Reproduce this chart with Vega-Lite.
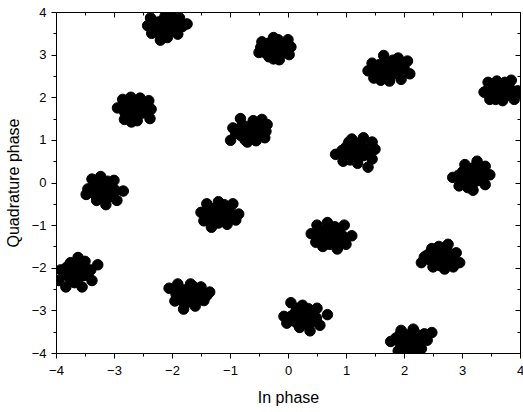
{
  "$schema": "https://vega.github.io/schema/vega-lite/v6.json",
  "width": 464,
  "height": 341,
  "autosize": {"type": "none"},
  "padding": {"left": 56, "top": 12, "right": 3, "bottom": 59},
  "background": "white",
  "config": {
    "font": "Liberation Sans",
    "view": {"stroke": null},
    "axis": {
      "grid": false,
      "domainColor": "black",
      "domainWidth": 1,
      "tickColor": "black",
      "tickWidth": 1,
      "labelColor": "black",
      "labelFontSize": 13,
      "titleFontSize": 16,
      "titleFontWeight": "normal",
      "titleColor": "black"
    }
  },
  "data": {
    "values": [
      {"i": -2.12, "q": 3.66}, {"i": -1.97, "q": 3.76}, {"i": -2.27, "q": 3.76}, {"i": -1.97, "q": 3.56}, {"i": -2.27, "q": 3.56}, {"i": -1.82, "q": 3.66}, {"i": -2.42, "q": 3.68}, {"i": -2.12, "q": 3.9}, {"i": -2.08, "q": 3.4}, {"i": -1.87, "q": 3.86}, {"i": -2.37, "q": 3.86}, {"i": -1.9, "q": 3.48}, {"i": -2.35, "q": 3.5}, {"i": -1.74, "q": 3.72}, {"i": -2.02, "q": 3.95}, {"i": -2.2, "q": 3.34},
      {"i": -0.25, "q": 3.15}, {"i": -0.1, "q": 3.25}, {"i": -0.4, "q": 3.25}, {"i": -0.1, "q": 3.05}, {"i": -0.4, "q": 3.05}, {"i": 0.05, "q": 3.18}, {"i": -0.5, "q": 3.05}, {"i": -0.25, "q": 3.4}, {"i": -0.25, "q": 2.9}, {"i": 0.0, "q": 3.35}, {"i": -0.45, "q": 3.3}, {"i": 0.02, "q": 3.0}, {"i": -0.15, "q": 2.88}, {"i": -0.3, "q": 3.0}, {"i": -0.2, "q": 3.3}, {"i": -0.05, "q": 3.12},
      {"i": 1.73, "q": 2.67}, {"i": 1.88, "q": 2.77}, {"i": 1.58, "q": 2.77}, {"i": 1.88, "q": 2.57}, {"i": 1.58, "q": 2.57}, {"i": 2.06, "q": 2.85}, {"i": 1.38, "q": 2.62}, {"i": 1.65, "q": 2.98}, {"i": 1.75, "q": 2.38}, {"i": 2.1, "q": 2.55}, {"i": 1.48, "q": 2.45}, {"i": 1.95, "q": 2.42}, {"i": 1.6, "q": 2.4}, {"i": 1.9, "q": 2.92}, {"i": 1.45, "q": 2.8}, {"i": 2.0, "q": 2.7},
      {"i": 3.66, "q": 2.15}, {"i": 3.81, "q": 2.25}, {"i": 3.51, "q": 2.25}, {"i": 3.81, "q": 2.05}, {"i": 3.51, "q": 2.05}, {"i": 3.96, "q": 2.15}, {"i": 3.38, "q": 2.12}, {"i": 3.6, "q": 2.38}, {"i": 3.7, "q": 1.92}, {"i": 3.85, "q": 2.4}, {"i": 3.45, "q": 2.35}, {"i": 3.9, "q": 1.95}, {"i": 3.48, "q": 1.95}, {"i": 4.0, "q": 2.1}, {"i": 3.75, "q": 2.3}, {"i": 3.6, "q": 1.98},
      {"i": -2.66, "q": 1.73}, {"i": -2.51, "q": 1.83}, {"i": -2.81, "q": 1.83}, {"i": -2.51, "q": 1.63}, {"i": -2.81, "q": 1.63}, {"i": -2.36, "q": 1.72}, {"i": -2.94, "q": 1.75}, {"i": -2.71, "q": 2.0}, {"i": -2.6, "q": 1.45}, {"i": -2.4, "q": 1.92}, {"i": -2.85, "q": 1.95}, {"i": -2.38, "q": 1.5}, {"i": -2.82, "q": 1.48}, {"i": -2.55, "q": 1.98}, {"i": -2.7, "q": 1.42}, {"i": -2.45, "q": 1.78},
      {"i": -0.66, "q": 1.2}, {"i": -0.51, "q": 1.3}, {"i": -0.81, "q": 1.3}, {"i": -0.51, "q": 1.1}, {"i": -0.81, "q": 1.1}, {"i": -0.36, "q": 1.36}, {"i": -0.99, "q": 0.99}, {"i": -0.82, "q": 1.5}, {"i": -0.7, "q": 0.95}, {"i": -0.45, "q": 1.48}, {"i": -0.95, "q": 1.28}, {"i": -0.4, "q": 1.05}, {"i": -0.6, "q": 1.45}, {"i": -0.9, "q": 1.15}, {"i": -0.55, "q": 0.98}, {"i": -0.38, "q": 1.2},
      {"i": 1.15, "q": 0.73}, {"i": 1.3, "q": 0.83}, {"i": 1.0, "q": 0.83}, {"i": 1.3, "q": 0.63}, {"i": 1.0, "q": 0.63}, {"i": 0.82, "q": 0.66}, {"i": 1.5, "q": 0.78}, {"i": 1.3, "q": 1.05}, {"i": 1.1, "q": 1.02}, {"i": 1.38, "q": 0.36}, {"i": 1.2, "q": 0.45}, {"i": 1.45, "q": 0.95}, {"i": 0.95, "q": 0.5}, {"i": 1.45, "q": 0.55}, {"i": 1.05, "q": 0.95}, {"i": 1.25, "q": 0.72},
      {"i": 3.16, "q": 0.15}, {"i": 3.31, "q": 0.25}, {"i": 3.01, "q": 0.25}, {"i": 3.31, "q": 0.05}, {"i": 3.01, "q": 0.05}, {"i": 2.84, "q": 0.12}, {"i": 3.48, "q": 0.18}, {"i": 3.26, "q": 0.5}, {"i": 3.05, "q": 0.42}, {"i": 3.19, "q": -0.18}, {"i": 3.4, "q": 0.38}, {"i": 3.4, "q": -0.05}, {"i": 2.95, "q": -0.08}, {"i": 3.1, "q": -0.12}, {"i": 3.35, "q": 0.1}, {"i": 3.2, "q": 0.35},
      {"i": -3.19, "q": -0.17}, {"i": -3.04, "q": -0.07}, {"i": -3.34, "q": -0.07}, {"i": -3.04, "q": -0.27}, {"i": -3.34, "q": -0.27}, {"i": -3.48, "q": -0.28}, {"i": -2.84, "q": -0.2}, {"i": -3.23, "q": 0.14}, {"i": -3.38, "q": 0.08}, {"i": -3.0, "q": 0.05}, {"i": -3.14, "q": -0.52}, {"i": -2.95, "q": -0.42}, {"i": -3.3, "q": -0.42}, {"i": -3.45, "q": -0.15}, {"i": -3.1, "q": -0.35}, {"i": -3.2, "q": 0.0},
      {"i": -1.18, "q": -0.72}, {"i": -1.03, "q": -0.62}, {"i": -1.33, "q": -0.62}, {"i": -1.03, "q": -0.82}, {"i": -1.33, "q": -0.82}, {"i": -1.5, "q": -0.7}, {"i": -0.85, "q": -0.74}, {"i": -1.2, "q": -0.45}, {"i": -1.4, "q": -0.5}, {"i": -0.95, "q": -0.5}, {"i": -1.32, "q": -1.05}, {"i": -1.05, "q": -0.98}, {"i": -1.45, "q": -0.9}, {"i": -0.9, "q": -0.88}, {"i": -1.2, "q": -0.95}, {"i": -1.1, "q": -0.72},
      {"i": 0.73, "q": -1.24}, {"i": 0.88, "q": -1.14}, {"i": 0.58, "q": -1.14}, {"i": 0.88, "q": -1.34}, {"i": 0.58, "q": -1.34}, {"i": 0.4, "q": -1.2}, {"i": 1.1, "q": -1.25}, {"i": 0.68, "q": -0.94}, {"i": 0.97, "q": -1.0}, {"i": 0.5, "q": -1.0}, {"i": 0.85, "q": -1.56}, {"i": 0.6, "q": -1.5}, {"i": 1.0, "q": -1.45}, {"i": 0.48, "q": -1.4}, {"i": 0.75, "q": -1.05}, {"i": 0.72, "q": -1.45},
      {"i": 2.61, "q": -1.73}, {"i": 2.76, "q": -1.63}, {"i": 2.46, "q": -1.63}, {"i": 2.76, "q": -1.83}, {"i": 2.46, "q": -1.83}, {"i": 2.3, "q": -1.88}, {"i": 2.96, "q": -1.88}, {"i": 2.76, "q": -1.45}, {"i": 2.48, "q": -1.55}, {"i": 2.9, "q": -1.65}, {"i": 2.7, "q": -2.03}, {"i": 2.5, "q": -1.98}, {"i": 2.85, "q": -1.98}, {"i": 2.6, "q": -1.5}, {"i": 2.62, "q": -1.95}, {"i": 2.35, "q": -1.75},
      {"i": -3.66, "q": -2.08}, {"i": -3.51, "q": -1.98}, {"i": -3.81, "q": -1.98}, {"i": -3.51, "q": -2.18}, {"i": -3.81, "q": -2.18}, {"i": -3.92, "q": -2.05}, {"i": -3.28, "q": -1.93}, {"i": -3.62, "q": -1.76}, {"i": -3.75, "q": -1.88}, {"i": -3.4, "q": -2.05}, {"i": -3.55, "q": -2.45}, {"i": -3.83, "q": -2.45}, {"i": -3.38, "q": -2.3}, {"i": -3.95, "q": -2.3}, {"i": -3.68, "q": -2.35}, {"i": -3.5, "q": -1.85},
      {"i": -1.71, "q": -2.64}, {"i": -1.56, "q": -2.54}, {"i": -1.86, "q": -2.54}, {"i": -1.56, "q": -2.74}, {"i": -1.86, "q": -2.74}, {"i": -2.05, "q": -2.48}, {"i": -1.35, "q": -2.57}, {"i": -1.9, "q": -2.38}, {"i": -1.68, "q": -2.38}, {"i": -1.45, "q": -2.77}, {"i": -1.8, "q": -2.97}, {"i": -1.6, "q": -2.9}, {"i": -1.95, "q": -2.78}, {"i": -1.5, "q": -2.45}, {"i": -1.7, "q": -2.8}, {"i": -1.4, "q": -2.65},
      {"i": 0.27, "q": -3.16}, {"i": 0.42, "q": -3.06}, {"i": 0.12, "q": -3.06}, {"i": 0.42, "q": -3.26}, {"i": 0.12, "q": -3.26}, {"i": -0.07, "q": -3.14}, {"i": 0.68, "q": -3.1}, {"i": 0.05, "q": -2.82}, {"i": 0.25, "q": -2.88}, {"i": 0.5, "q": -2.95}, {"i": 0.38, "q": -3.48}, {"i": 0.2, "q": -3.4}, {"i": 0.55, "q": -3.35}, {"i": -0.02, "q": -3.3}, {"i": 0.3, "q": -3.3}, {"i": 0.15, "q": -2.95},
      {"i": 2.08, "q": -3.67}, {"i": 2.23, "q": -3.57}, {"i": 1.93, "q": -3.57}, {"i": 2.23, "q": -3.77}, {"i": 1.93, "q": -3.77}, {"i": 1.77, "q": -3.73}, {"i": 2.48, "q": -3.52}, {"i": 2.16, "q": -3.44}, {"i": 1.95, "q": -3.47}, {"i": 2.4, "q": -3.7}, {"i": 2.1, "q": -3.9}, {"i": 2.3, "q": -3.9}, {"i": 1.9, "q": -3.95}, {"i": 2.05, "q": -3.85}, {"i": 2.35, "q": -3.55}, {"i": 2.2, "q": -4.0},
      {"i": -2.04, "q": 3.86}, {"i": -2.2, "q": 3.46}, {"i": -1.9, "q": 3.64}, {"i": -2.34, "q": 3.68}, {"i": -2.04, "q": 3.54}, {"i": -2.2, "q": 3.78},
      {"i": -0.17, "q": 3.35}, {"i": -0.33, "q": 2.95}, {"i": -0.03, "q": 3.13}, {"i": -0.47, "q": 3.17}, {"i": -0.17, "q": 3.03}, {"i": -0.33, "q": 3.27},
      {"i": 1.81, "q": 2.87}, {"i": 1.65, "q": 2.47}, {"i": 1.95, "q": 2.65}, {"i": 1.51, "q": 2.69}, {"i": 1.81, "q": 2.55}, {"i": 1.65, "q": 2.79},
      {"i": 3.74, "q": 2.35}, {"i": 3.58, "q": 1.95}, {"i": 3.88, "q": 2.13}, {"i": 3.44, "q": 2.17}, {"i": 3.74, "q": 2.03}, {"i": 3.58, "q": 2.27},
      {"i": -2.58, "q": 1.93}, {"i": -2.74, "q": 1.53}, {"i": -2.44, "q": 1.71}, {"i": -2.88, "q": 1.75}, {"i": -2.58, "q": 1.61}, {"i": -2.74, "q": 1.85},
      {"i": -0.58, "q": 1.4}, {"i": -0.74, "q": 1.0}, {"i": -0.44, "q": 1.18}, {"i": -0.88, "q": 1.22}, {"i": -0.58, "q": 1.08}, {"i": -0.74, "q": 1.32},
      {"i": 1.23, "q": 0.93}, {"i": 1.07, "q": 0.53}, {"i": 1.37, "q": 0.71}, {"i": 0.93, "q": 0.75}, {"i": 1.23, "q": 0.61}, {"i": 1.07, "q": 0.85},
      {"i": 3.24, "q": 0.35}, {"i": 3.08, "q": -0.05}, {"i": 3.38, "q": 0.13}, {"i": 2.94, "q": 0.17}, {"i": 3.24, "q": 0.03}, {"i": 3.08, "q": 0.27},
      {"i": -3.11, "q": 0.03}, {"i": -3.27, "q": -0.37}, {"i": -2.97, "q": -0.19}, {"i": -3.41, "q": -0.15}, {"i": -3.11, "q": -0.29}, {"i": -3.27, "q": -0.05},
      {"i": -1.1, "q": -0.52}, {"i": -1.26, "q": -0.92}, {"i": -0.96, "q": -0.74}, {"i": -1.4, "q": -0.7}, {"i": -1.1, "q": -0.84}, {"i": -1.26, "q": -0.6},
      {"i": 0.81, "q": -1.04}, {"i": 0.65, "q": -1.44}, {"i": 0.95, "q": -1.26}, {"i": 0.51, "q": -1.22}, {"i": 0.81, "q": -1.36}, {"i": 0.65, "q": -1.12},
      {"i": 2.69, "q": -1.53}, {"i": 2.53, "q": -1.93}, {"i": 2.83, "q": -1.75}, {"i": 2.39, "q": -1.71}, {"i": 2.69, "q": -1.85}, {"i": 2.53, "q": -1.61},
      {"i": -3.58, "q": -1.88}, {"i": -3.74, "q": -2.28}, {"i": -3.44, "q": -2.1}, {"i": -3.88, "q": -2.06}, {"i": -3.58, "q": -2.2}, {"i": -3.74, "q": -1.96},
      {"i": -1.63, "q": -2.44}, {"i": -1.79, "q": -2.84}, {"i": -1.49, "q": -2.66}, {"i": -1.93, "q": -2.62}, {"i": -1.63, "q": -2.76}, {"i": -1.79, "q": -2.52},
      {"i": 0.35, "q": -2.96}, {"i": 0.19, "q": -3.36}, {"i": 0.49, "q": -3.18}, {"i": 0.05, "q": -3.14}, {"i": 0.35, "q": -3.28}, {"i": 0.19, "q": -3.04},
      {"i": 2.16, "q": -3.47}, {"i": 2.0, "q": -3.87}, {"i": 2.3, "q": -3.69}, {"i": 1.86, "q": -3.65}, {"i": 2.16, "q": -3.79}, {"i": 2.0, "q": -3.55}
    ]
  },
  "resolve": {"axis": {"x": "independent", "y": "independent"}},
  "layer": [
    {
      "mark": {"type": "circle", "size": 110, "color": "black", "stroke": "black", "strokeWidth": 1, "opacity": 1, "clip": true},
      "encoding": {
        "x": {"field": "i", "type": "quantitative", "scale": {"domain": [-4, 4], "nice": false, "zero": false},
          "axis": {"orient": "bottom", "values": [-4, -3, -2, -1, 0, 1, 2, 3, 4], "tickSize": 5, "labelPadding": 6, "title": "In phase", "titlePadding": 12, "labelFlush": false}},
        "y": {"field": "q", "type": "quantitative", "scale": {"domain": [-4, 4], "nice": false, "zero": false},
          "axis": {"orient": "left", "values": [-4, -3, -2, -1, 0, 1, 2, 3, 4], "tickSize": 5, "labelPadding": 5, "title": "Quadrature phase", "titlePadding": 10, "labelFlush": false}}
      }
    },
    {
      "mark": {"type": "circle", "opacity": 0},
      "encoding": {
        "x": {"field": "i", "type": "quantitative", "axis": {"orient": "bottom", "values": [-3.5, -2.5, -1.5, -0.5, 0.5, 1.5, 2.5, 3.5], "tickSize": 3, "labels": false, "domain": false, "title": null}},
        "y": {"field": "q", "type": "quantitative", "axis": {"orient": "left", "values": [-3.5, -2.5, -1.5, -0.5, 0.5, 1.5, 2.5, 3.5], "tickSize": 3, "labels": false, "domain": false, "title": null}}
      }
    },
    {
      "mark": {"type": "circle", "opacity": 0},
      "encoding": {
        "x": {"field": "i", "type": "quantitative", "axis": {"orient": "top", "values": [-4, -3, -2, -1, 0, 1, 2, 3, 4], "tickSize": -5, "labels": false, "title": null}},
        "y": {"field": "q", "type": "quantitative", "axis": {"orient": "right", "values": [-4, -3, -2, -1, 0, 1, 2, 3, 4], "tickSize": -5, "labels": false, "title": null}}
      }
    },
    {
      "mark": {"type": "circle", "opacity": 0},
      "encoding": {
        "x": {"field": "i", "type": "quantitative", "axis": {"orient": "top", "values": [-3.5, -2.5, -1.5, -0.5, 0.5, 1.5, 2.5, 3.5], "tickSize": -3, "labels": false, "domain": false, "title": null}},
        "y": {"field": "q", "type": "quantitative", "axis": {"orient": "right", "values": [-3.5, -2.5, -1.5, -0.5, 0.5, 1.5, 2.5, 3.5], "tickSize": -3, "labels": false, "domain": false, "title": null}}
      }
    }
  ]
}
